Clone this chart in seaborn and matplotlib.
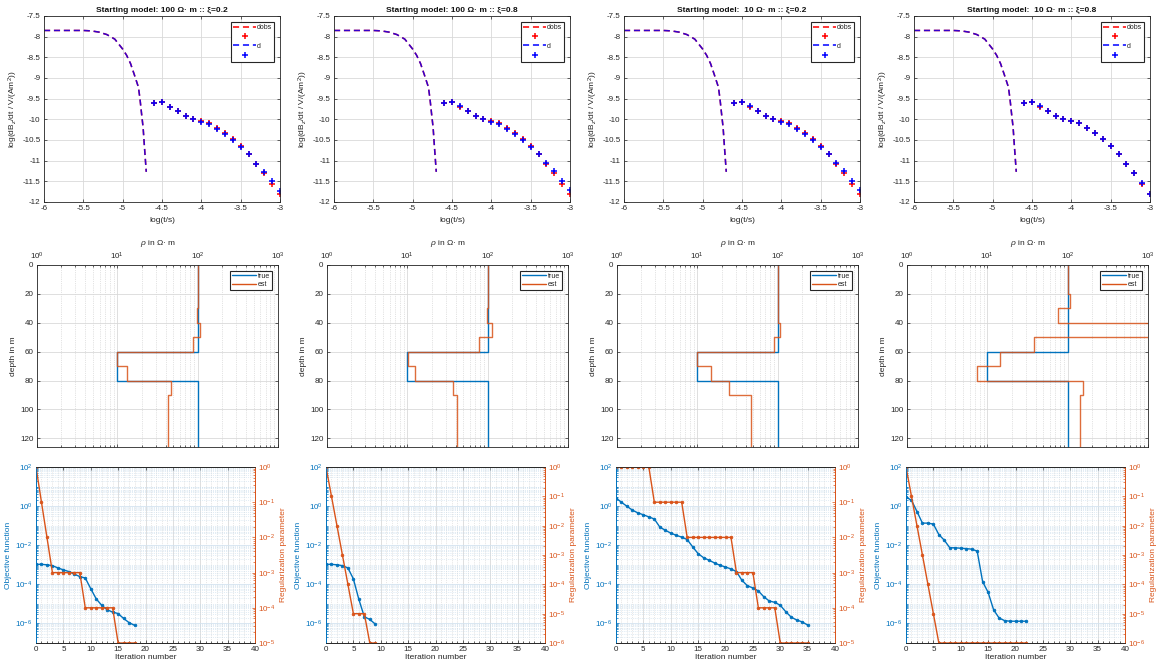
import numpy as np
import matplotlib
matplotlib.use("Agg")
import matplotlib.pyplot as plt
import seaborn as sns
from matplotlib.lines import Line2D
from matplotlib.ticker import LogLocator, MultipleLocator, NullFormatter, FixedLocator

# ------------------------- data -------------------------
titles = ["Starting model: 100 \u03a9\u00b7 m :: \u03be=0.2",
          "Starting model: 100 \u03a9\u00b7 m :: \u03be=0.8",
          "Starting model:  10 \u03a9\u00b7 m :: \u03be=0.2",
          "Starting model:  10 \u03a9\u00b7 m :: \u03be=0.8"]

# early-time transient curve (log t, log dBz/dt)
curve_t = [-6.0, -5.7, -5.5, -5.4, -5.3, -5.2, -5.1, -5.0, -4.95, -4.9, -4.85,
           -4.8, -4.78, -4.76, -4.74, -4.72, -4.70]
curve_v = [-7.85, -7.85, -7.85, -7.86, -7.89, -7.95, -8.06, -8.30, -8.45, -8.65,
           -8.93, -9.22, -9.50, -9.86, -10.20, -10.75, -11.27]

gate_t = [-4.6, -4.5, -4.4, -4.3, -4.2, -4.1, -4.0, -3.9, -3.8, -3.7, -3.6,
          -3.5, -3.4, -3.3, -3.2, -3.1, -3.0]
dobs = [-9.60, -9.57, -9.69, -9.81, -9.91, -9.98, -10.04, -10.10, -10.20, -10.32,
        -10.48, -10.65, -10.85, -11.09, -11.31, -11.56, -11.81]
d_1 = [-9.60, -9.57, -9.69, -9.81, -9.91, -9.98, -10.06, -10.12, -10.23, -10.35,
       -10.51, -10.67, -10.85, -11.07, -11.27, -11.50, -11.73]
d_2 = [-9.60, -9.57, -9.68, -9.80, -9.91, -9.98, -10.06, -10.12, -10.23, -10.36,
       -10.51, -10.67, -10.85, -11.06, -11.26, -11.48, -11.72]
d_3 = [-9.60, -9.57, -9.68, -9.80, -9.91, -9.98, -10.06, -10.12, -10.23, -10.35,
       -10.51, -10.66, -10.85, -11.06, -11.26, -11.48, -11.72]
d_4 = [-9.60, -9.57, -9.68, -9.81, -9.91, -9.98, -10.04, -10.10, -10.20, -10.32,
       -10.48, -10.65, -10.85, -11.08, -11.30, -11.55, -11.80]
d_pred = [d_1, d_2, d_3, d_4]

# layered resistivity models
layer_top = [0, 10, 20, 30, 40, 50, 60, 70, 80, 90]
depth_max = 126
true_rho = [100, 100, 100, 100, 100, 100, 10, 10, 100, 100]
est_1 = [100, 100, 100, 97, 107.5, 86.4, 10, 13.2, 46, 42.7]
est_2 = [100, 100, 100, 97, 113.8, 79, 10.2, 12.5, 37.3, 42]
est_3 = [100, 100, 100, 100, 106, 90, 10, 14.8, 25, 46.5]
est_4 = [100, 100, 107, 76, 2000, 37.7, 14.3, 7.5, 156, 144]
est_rho = [est_1, est_2, est_3, est_4]

# inversion convergence
obj_1 = [1.07e-3, 1.05e-3, 1.0e-3, 9e-4, 6.9e-4, 5.5e-4, 4.5e-4, 3.3e-4, 2.5e-4,
         2.1e-4, 6e-5, 1.8e-5, 8.5e-6, 5e-6, 3.8e-6, 3.2e-6, 1.8e-6, 1.1e-6, 8e-7]
reg_1 = [1, 1e-1, 1e-2, 1e-3, 1e-3, 1e-3, 1e-3, 1e-3, 1e-3, 1e-4, 1e-4, 1e-4,
         1e-4, 1e-4, 1e-4, 1e-5, 1e-5, 1e-5, 1e-5]
obj_2 = [1.07e-3, 1.05e-3, 1.0e-3, 9e-4, 6.9e-4, 1.9e-4, 1.7e-5, 2.2e-6, 1.6e-6, 9.3e-7]
reg_2 = [1, 1e-1, 1e-2, 1e-3, 1e-4, 1e-5, 1e-5, 1e-5, 1e-6, 1e-6]
obj_3 = [2.6, 1.57, 0.98, 0.62, 0.45, 0.36, 0.28, 0.22, 0.085, 0.058, 0.042, 0.032,
         0.026, 0.0195, 0.0083, 0.0037, 0.0023, 0.0017, 0.00124, 9.4e-4, 7.7e-4,
         6.1e-4, 4.5e-4, 1.6e-4, 8.5e-5, 6.5e-5, 4.6e-5, 2.3e-5, 1.4e-5, 1.2e-5,
         8.5e-6, 4e-6, 2.1e-6, 1.5e-6, 1.2e-6, 8.3e-7]
reg_3 = [1, 1, 1, 1, 1, 1, 1, 1e-1, 1e-1, 1e-1, 1e-1, 1e-1, 1e-1, 1e-2, 1e-2, 1e-2,
         1e-2, 1e-2, 1e-2, 1e-2, 1e-2, 1e-2, 1e-3, 1e-3, 1e-3, 1e-3, 1e-4, 1e-4,
         1e-4, 1e-4, 1e-5, 1e-5, 1e-5, 1e-5, 1e-5, 1e-5]
obj_4 = [2.9, 2.0, 0.53, 0.135, 0.135, 0.12, 0.035, 0.018, 0.0074, 0.0074, 0.007,
         0.0067, 0.0063, 0.005, 1.35e-4, 3.9e-5, 5e-6, 1.9e-6, 1.4e-6, 1.3e-6,
         1.3e-6, 1.3e-6, 1.3e-6]
reg_4 = [1, 1e-1, 1e-2, 1e-3, 1e-4, 1e-5] + [1e-6] * 17
obj_all = [obj_1, obj_2, obj_3, obj_4]
reg_all = [reg_1, reg_2, reg_3, reg_4]
reg_decades = [5, 6, 5, 6]

# ------------------------- style -------------------------
sns.set_style("ticks")
plt.rcParams['font.family'] = ['Liberation Sans', 'DejaVu Sans']
plt.rcParams['mathtext.fontset'] = 'custom'
plt.rcParams['mathtext.rm'] = 'Liberation Sans'
plt.rcParams['mathtext.it'] = 'Liberation Sans:italic'
plt.rcParams['mathtext.bf'] = 'Liberation Sans:bold'
plt.rcParams['axes.linewidth'] = 0.6
plt.rcParams['axes.edgecolor'] = '#262626'

BLUE = '#0072BD'
ORANGE = '#D95319'
TK = 5.8
LB = 6.0
GRAY = '#262626'

W, H = 1156, 670
fig = plt.figure(figsize=(W / 100, H / 100), dpi=100)


def rect(left, top, width, bottom):
    return [left / W, 1 - bottom / H, width / W, (bottom - top) / H]


def style_ticks(ax):
    ax.tick_params(axis='both', which='both', direction='in', labelsize=TK,
                   top=True, right=True, colors=GRAY, width=0.5, pad=2.5)
    ax.tick_params(which='major', length=2.5)
    ax.tick_params(which='minor', length=1.3)


for c in range(4):
    off = 290 * c
    # ---------------- top row: data fit ----------------
    ax = fig.add_axes(rect(44 + off, 16, 236, 202))
    sns.lineplot(x=curve_t, y=curve_v, ax=ax, color='red', linestyle='--',
                 linewidth=1.1, sort=False, estimator=None)
    sns.lineplot(x=curve_t, y=curve_v, ax=ax, color='blue', linestyle='--',
                 linewidth=1.1, sort=False, estimator=None, alpha=0.8)
    for ln in ax.get_lines():
        ln.set_dashes([4, 2.5])
    sns.lineplot(x=gate_t, y=dobs, ax=ax, color='red', linestyle='', marker='+',
                 markersize=5, markeredgewidth=1.1, markeredgecolor='red',
                 sort=False, estimator=None)
    sns.lineplot(x=gate_t, y=d_pred[c], ax=ax, color='blue', linestyle='', marker='+',
                 markersize=5, markeredgewidth=1.1, markeredgecolor='blue',
                 sort=False, estimator=None)
    ax.set_xlim(-6, -3)
    ax.set_ylim(-12, -7.5)
    ax.xaxis.set_major_locator(MultipleLocator(0.5))
    ax.yaxis.set_major_locator(MultipleLocator(0.5))
    ax.xaxis.set_major_formatter(plt.FuncFormatter(lambda v, p: f"{v:g}"))
    ax.yaxis.set_major_formatter(plt.FuncFormatter(lambda v, p: f"{v:g}"))
    ax.grid(True, which='major', color='#d9d9d9', linewidth=0.6)
    style_ticks(ax)
    ax.set_xlabel("log(t/s)", fontsize=LB, color=GRAY, labelpad=3)
    ax.set_ylabel("log(dB$_z$/dt / V/(Am$^2$))", fontsize=LB, color=GRAY, labelpad=2)
    ax.set_title(titles[c], fontsize=LB, fontweight='bold', pad=3, color='#111111')
    handles = [Line2D([], [], color='red', linestyle='--', dashes=[4, 2.5], lw=1.1),
               Line2D([], [], color='red', linestyle='', marker='+', ms=4.5, mew=1.1),
               Line2D([], [], color='blue', linestyle='--', dashes=[4, 2.5], lw=1.1),
               Line2D([], [], color='blue', linestyle='', marker='+', ms=4.5, mew=1.1)]
    leg = ax.legend(handles, ['dobs', '', 'd', ''], loc='upper right', fontsize=5,
                    frameon=True, fancybox=False, edgecolor='#262626',
                    handlelength=3.3, handletextpad=0.1, labelspacing=0.35,
                    borderpad=0.35, borderaxespad=0.8, framealpha=1)
    leg.get_frame().set_linewidth(0.8)

    # ---------------- middle row: resistivity model ----------------
    ax = fig.add_axes(rect(37 + off, 265, 241, 447))
    bottoms = layer_top[1:] + [depth_max]
    ys = [v for pair in zip(layer_top, bottoms) for v in pair]
    xs_true = [v for v in true_rho for _ in range(2)]
    xs_est = [v for v in est_rho[c] for _ in range(2)]
    sns.lineplot(x=xs_true, y=ys, ax=ax, color=BLUE, linewidth=1.0,
                 sort=False, estimator=None)
    sns.lineplot(x=xs_est, y=ys, ax=ax, color=ORANGE, linewidth=1.0, alpha=0.85,
                 sort=False, estimator=None)
    ax.set_xscale('log')
    ax.set_xlim(1, 1000)
    ax.set_ylim(depth_max, 0)
    ax.xaxis.tick_top()
    ax.xaxis.set_label_position('top')
    ax.xaxis.set_major_locator(FixedLocator([1, 10, 100, 1000]))
    ax.xaxis.set_minor_locator(LogLocator(base=10, subs=np.arange(2, 10), numticks=10))
    ax.xaxis.set_minor_formatter(NullFormatter())
    ax.yaxis.set_major_locator(MultipleLocator(20))
    ax.grid(True, which='major', color='#d9d9d9', linewidth=0.6)
    ax.grid(True, which='minor', axis='x', color='#c8c8c8', linewidth=0.5, linestyle=':')
    style_ticks(ax)
    ax.tick_params(axis='x', which='both', bottom=True, top=True)
    ax.set_xlabel("$\\rho$ in \u03a9\u00b7 m", fontsize=LB, color=GRAY, labelpad=4)
    ax.set_ylabel("depth in m", fontsize=LB, color=GRAY, labelpad=2)
    handles = [Line2D([], [], color=BLUE, lw=1.0), Line2D([], [], color=ORANGE, lw=1.0)]
    leg = ax.legend(handles, ['true', 'est'], loc='upper right', fontsize=5,
                    frameon=True, fancybox=False, edgecolor='#262626',
                    handlelength=3.5, handletextpad=0.3, labelspacing=0.2,
                    borderpad=0.3, borderaxespad=0.8, framealpha=1)
    leg.get_frame().set_linewidth(0.8)

    # ---------------- bottom row: convergence ----------------
    ax = fig.add_axes(rect(36 + off, 467, 219, 643))
    ax2 = ax.twinx()
    it_obj = list(range(len(obj_all[c])))
    it_reg = list(range(len(reg_all[c])))
    sns.lineplot(x=it_obj, y=obj_all[c], ax=ax, color=BLUE, linewidth=1.0,
                 marker='o', markersize=2.0, markeredgecolor=BLUE,
                 markeredgewidth=0.5, sort=False, estimator=None)
    sns.lineplot(x=it_reg, y=reg_all[c], ax=ax2, color=ORANGE, linewidth=1.0,
                 marker='o', markersize=2.0, markeredgecolor=ORANGE,
                 markeredgewidth=0.5, sort=False, estimator=None)
    ax.set_yscale('log')
    ax2.set_yscale('log')
    ax.set_xlim(0, 40)
    ax.set_ylim(1e-7, 1e2)
    nd = reg_decades[c]
    ax2.set_ylim(10.0 ** (-nd), 1)
    ax.xaxis.set_major_locator(MultipleLocator(5))
    ax.xaxis.set_minor_locator(MultipleLocator(1))
    ax.yaxis.set_major_locator(FixedLocator([1e-6, 1e-4, 1e-2, 1, 1e2]))
    ax.yaxis.set_minor_locator(LogLocator(base=10, subs=np.arange(1, 10), numticks=20))
    ax.yaxis.set_minor_formatter(NullFormatter())
    ax2.yaxis.set_major_locator(FixedLocator([10.0 ** (-k) for k in range(nd + 1)]))
    ax2.yaxis.set_minor_locator(LogLocator(base=10, subs=np.arange(2, 10), numticks=10))
    ax2.yaxis.set_minor_formatter(NullFormatter())
    ax.grid(True, which='major', axis='x', color='#d9d9d9', linewidth=0.6)
    ax.grid(True, which='minor', axis='x', color='#d0d0d0', linewidth=0.5, linestyle=':')
    ax.grid(True, which='major', axis='y', color='#d3e3f0', linewidth=0.6)
    ax.grid(True, which='minor', axis='y', color='#c6dbeb', linewidth=0.5, linestyle=':')
    ax.set_axisbelow(True)
    ax.tick_params(axis='both', which='both', direction='in', labelsize=TK, width=0.5, pad=2.5)
    ax.tick_params(which='major', length=2.5)
    ax.tick_params(which='minor', length=1.3)
    ax.tick_params(axis='x', colors=GRAY, top=True)
    ax.tick_params(axis='y', which='both', colors=BLUE, labelcolor=BLUE, right=False)
    ax2.tick_params(axis='y', which='both', direction='in', labelsize=TK, colors=ORANGE,
                    labelcolor=ORANGE, width=0.5, pad=2.5)
    ax2.tick_params(which='major', length=2.5)
    ax2.tick_params(which='minor', length=1.3)
    ax.spines['left'].set_color(BLUE)
    ax2.spines['left'].set_color(BLUE)
    ax2.spines['right'].set_color(ORANGE)
    ax.spines['right'].set_color(ORANGE)
    ax.set_xlabel("Iteration number", fontsize=LB, color=GRAY, labelpad=0.5)
    ax.set_ylabel("Objective function", fontsize=LB, color=BLUE, labelpad=2)
    ax2.set_ylabel("Regularization parameter", fontsize=LB, color=ORANGE, labelpad=3)

fig.savefig("out.png", dpi=100, facecolor='white')
